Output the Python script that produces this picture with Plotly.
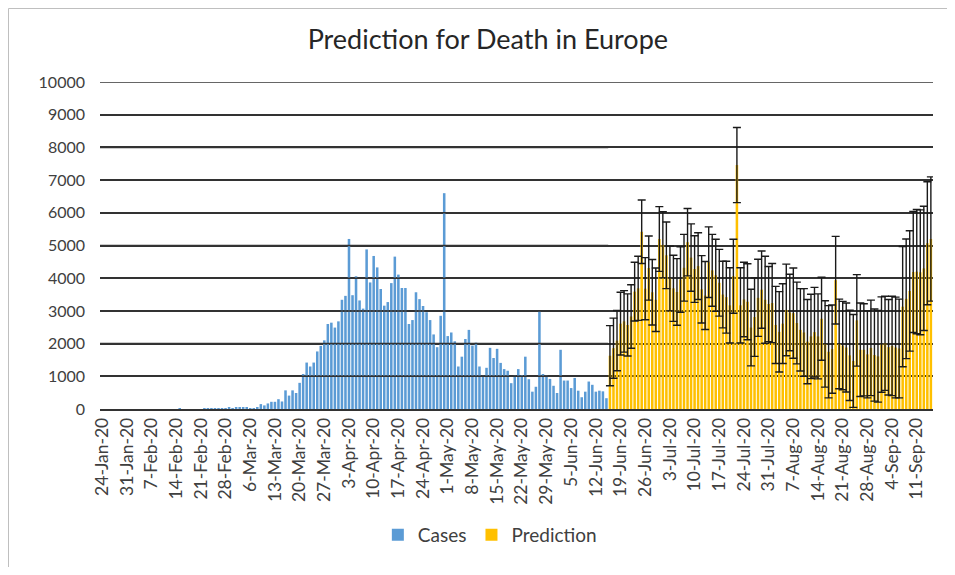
### IMPORTS ###
import pandas as pd
import plotly.graph_objects as go


### DATA ###
# daily deaths reported in Europe, first bar on 15-Feb-20
cases_start = "2020-02-15"
cases = [
    30, 0, 0, 0, 0, 0, 0,
    20, 20, 30, 30, 20, 30, 30, 40, 30, 40, 40, 50, 40,
    30, 30, 50, 150, 110, 170, 220, 220, 300, 230, 570, 410, 570, 490, 800,
    1070, 1420, 1300, 1420, 1760, 1930, 2100, 2600, 2640, 2490, 2680, 3340, 3460, 5200,
    3480, 4060, 3320, 3070, 4880, 3870, 4680, 4330, 3670, 3160, 3270, 3850, 4660, 4110,
    3700, 3700, 2600, 2720, 3570, 3360, 3150, 2960, 2720, 2280, 1890, 2850, 6600,
    2230, 2340, 2070, 1300, 1600, 2140, 2420, 1940, 2030, 1300, 1020, 1260, 1870, 1560,
    1840, 1410, 1220, 1170, 790, 1020, 1220, 1040, 1600, 910, 530, 680, 2990, 1070,
    1020, 920, 710, 490, 1810, 870, 870, 640, 950, 560, 360, 530, 840, 740, 530, 560,
    540, 330,
]

# predicted daily deaths, first bar on 16-Jun-20
prediction_start = "2020-06-16"
prediction = [
    1630, 1860, 2090, 2610, 2680, 2570, 2830, 3590, 3690, 5420, 3680, 4310, 3570, 3340,
    5200, 5020, 4700, 3990, 3690, 3580, 3960, 4320, 5100, 4630, 4280, 4370, 3660, 3470,
    4490, 4240, 4090, 3860, 3500, 3420, 3170, 4060, 7460, 3170, 3350, 3280, 2490, 2810,
    3400, 3650, 3340,
    3210, 3240, 2570, 2360, 2610, 3030, 2950, 2930, 2630, 2420, 2340, 2060, 2220, 2350,
    2220, 2760, 1990, 1750, 1830, 3940, 1990, 1940, 1880, 1640, 1470, 2710, 1810, 1810,
    1670, 1870, 1650, 1610, 1970, 2010, 1890, 1930, 1880, 1850, 3130, 3370, 3610, 4190,
    4200, 4180, 4300, 5070, 5200,
]
prediction_err = [
    920, 920, 920, 960, 940, 950, 970, 900, 980, 970, 950, 980, 1000, 970,
    990, 1010, 1020, 990, 1010, 1020, 1000, 1020, 1030, 1030, 1020, 1020, 1030, 1040,
    1080, 1100, 1100, 1020, 1020, 1100, 1150, 1130, 1150, 1150, 1140, 1160, 1170, 1200,
    1180, 1180, 1330,
    1150, 1210, 1180, 1230, 1220, 1400, 1170, 1380, 1250, 1260, 1340, 1290, 1290, 1370,
    1300, 1270, 1320, 1410, 1350, 1340, 1370, 1350, 1360, 1380, 1420, 1400, 1430, 1410,
    1330, 1460, 1410, 1400, 1460, 1440, 1460, 1520, 1540, 1510, 1840, 1830, 1840, 1850,
    1900, 1910, 1900, 1880, 1900,
]

tick_start = "2020-01-24"
tick_labels = [
    "24-Jan-20", "31-Jan-20", "7-Feb-20", "14-Feb-20", "21-Feb-20", "28-Feb-20",
    "6-Mar-20", "13-Mar-20", "20-Mar-20", "27-Mar-20", "3-Apr-20", "10-Apr-20",
    "17-Apr-20", "24-Apr-20", "1-May-20", "8-May-20", "15-May-20", "22-May-20",
    "29-May-20", "5-Jun-20", "12-Jun-20", "19-Jun-20", "26-Jun-20", "3-Jul-20",
    "10-Jul-20", "17-Jul-20", "24-Jul-20", "31-Jul-20", "7-Aug-20", "14-Aug-20",
    "21-Aug-20", "28-Aug-20", "4-Sep-20", "11-Sep-20",
]


### STYLE ###
FONT = "Lato, 'Open Sans', sans-serif"
TEXT = "#404040"
GRID = "#333333"
BLUE = "#5B9BD5"
GOLD = "#FFC000"

X_RANGE = ["2020-01-23 09:30", "2020-09-15 14:30"]
Y_MAX = 10000
BLUE_END = "2020-06-15 12:00"   # grid is drawn over the blue bars only

# figure sits 8px inside the page (body margin)
W, H = 939, 559
M_L, M_R, M_T, M_B = 92, 14, 74, 158


### FIGURE ###
cases_x = pd.date_range(cases_start, periods=len(cases), freq="D")
pred_x = pd.date_range(prediction_start, periods=len(prediction), freq="D")
tick_x = pd.date_range(tick_start, periods=len(tick_labels), freq="7D")

fig = go.Figure()

fig.add_trace(go.Bar(
    x=cases_x, y=cases, name="Cases",
    marker=dict(color=BLUE, line=dict(width=0)),
))
fig.add_trace(go.Bar(
    x=pred_x, y=prediction, name="Prediction",
    marker=dict(color=GOLD, line=dict(width=0)),
    error_y=dict(type="data", array=prediction_err, visible=True,
                 color="#1a1a1a", thickness=1.4, width=4),
))

# gridlines sit on top of the blue bars, behind the yellow ones
grid_shapes = [
    dict(type="line", xref="x", yref="y", x0=X_RANGE[0], x1=BLUE_END, y0=v, y1=v,
         layer="above", line=dict(color=GRID, width=1.5))
    for v in range(1000, Y_MAX, 1000)
]
# top gridline (plotly skips the one on the range edge)
grid_shapes.append(
    dict(type="line", xref="paper", yref="y", x0=0, x1=1, y0=Y_MAX, y1=Y_MAX,
         layer="above", line=dict(color=GRID, width=1.5))
)

# chart-area frame (left and top edges are the only ones in view)
plot_w = W - M_L - M_R
plot_h = H - M_T - M_B
left_px = (0.5 - M_L) / plot_w
top_py = 1 + (M_T - 0.5) / plot_h
frame_shapes = [
    dict(type="line", xref="paper", yref="paper", x0=left_px, x1=left_px,
         y0=top_py, y1=-M_B / plot_h, line=dict(color="#BFBFBF", width=1)),
    dict(type="line", xref="paper", yref="paper", x0=left_px, x1=1 + M_R / plot_w,
         y0=top_py, y1=top_py, line=dict(color="#BFBFBF", width=1)),
]

fig.update_layout(
    width=W, height=H,
    margin=dict(l=M_L, r=M_R, t=M_T, b=M_B, pad=0),
    paper_bgcolor="white", plot_bgcolor="white",
    font=dict(family=FONT, color=TEXT, size=16),
    title=dict(text="Prediction for Death in Europe", xref="container", x=0.511,
               xanchor="center", y=1 - 32 / H, yanchor="middle",
               font=dict(family=FONT, size=27, color="#262626")),
    barmode="overlay", bargap=0.28,
    showlegend=True,
    legend=dict(orientation="h", x=0.468, xanchor="center", y=-0.385, yanchor="middle",
                font=dict(size=19, color=TEXT), bgcolor="rgba(0,0,0,0)",
                traceorder="normal", itemwidth=30),
    shapes=grid_shapes + frame_shapes,
)

fig.update_xaxes(
    type="date", range=X_RANGE,
    tickmode="array", tickvals=tick_x, ticktext=tick_labels, tickangle=-90,
    tickfont=dict(size=17.5, color=TEXT),
    showgrid=False, showline=True, linecolor=GRID, linewidth=1.5,
    ticks="", zeroline=False,
)
fig.update_yaxes(
    range=[0, Y_MAX], tickmode="linear", tick0=0, dtick=1000, tickformat="d",
    tickfont=dict(size=16, color=TEXT), ticklabelstandoff=14,
    showgrid=True, gridcolor=GRID, gridwidth=1.5,
    zeroline=False, showline=False, ticks="",
)

fig.write_html("out.html")
